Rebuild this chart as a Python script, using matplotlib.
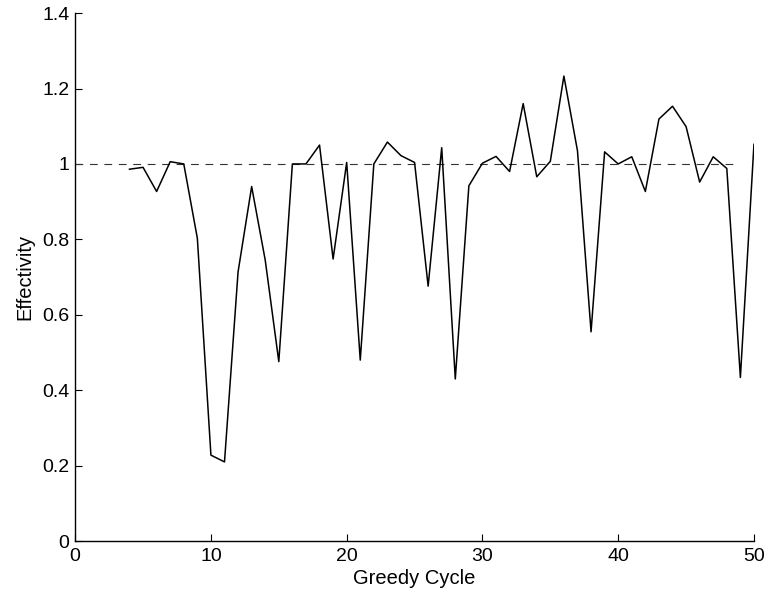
import matplotlib
matplotlib.use('Agg')
import matplotlib.pyplot as plt

plt.rcParams['font.family'] = ['Liberation Sans', 'DejaVu Sans']

# effectivity per greedy cycle
cycles = list(range(4, 51))
effectivity = [0.986, 0.991, 0.927, 1.006, 1.0, 0.803, 0.228, 0.21, 0.714, 0.94,
               0.745, 0.476, 1.0, 1.0, 1.05, 0.748, 1.004, 0.48, 1.0, 1.058,
               1.022, 1.004, 0.676, 1.043, 0.43, 0.942, 1.002, 1.02, 0.98, 1.16,
               0.966, 1.007, 1.233, 1.035, 0.555, 1.032, 1.0, 1.019, 0.927, 1.119,
               1.153, 1.099, 0.952, 1.019, 0.988, 0.434, 1.052]
ref_x = [0, 48.8]
ref_y = [1.0, 1.0]

xticks = [0, 10, 20, 30, 40, 50]
yticks = [0, 0.2, 0.4, 0.6, 0.8, 1.0, 1.2, 1.4]
ytick_labels = ['0', '0.2', '0.4', '0.6', '0.8', '1', '1.2', '1.4']

fig = plt.figure(figsize=(7.67, 5.94), dpi=100)
ax = fig.add_axes([0.098, 0.089, 0.885, 0.889])

ax.plot(ref_x, ref_y, color='#333333', linestyle=(0, (7, 6)), linewidth=0.8)
ax.plot(cycles, effectivity, color='black', linewidth=1.1)

ax.set_xlim(0, 50)
ax.set_ylim(0, 1.4)
ax.set_xticks(xticks)
ax.set_yticks(yticks)
ax.set_yticklabels(ytick_labels)
ax.tick_params(direction='in', length=5, labelsize=14, width=0.8)
ax.tick_params(axis='x', pad=5)
ax.tick_params(axis='y', pad=4)

for side in ['top', 'right']:
    ax.spines[side].set_visible(False)
for side in ['left', 'bottom']:
    ax.spines[side].set_linewidth(1.0)

ax.set_xlabel('Greedy Cycle', fontsize=14.5, labelpad=3)
ax.set_ylabel('Effectivity', fontsize=14.5, labelpad=6)

fig.savefig('out.png', dpi=100)
